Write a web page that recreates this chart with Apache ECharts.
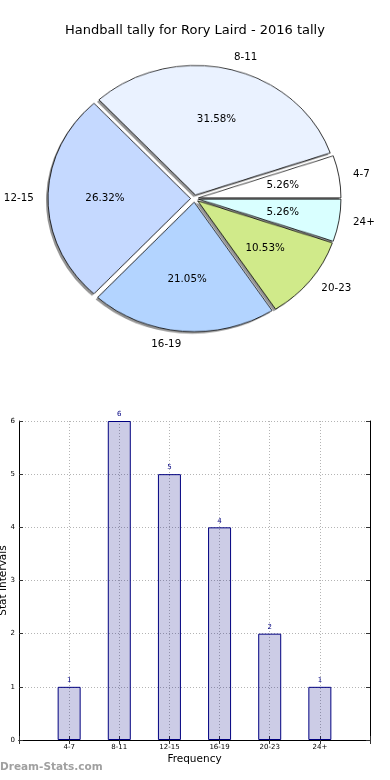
<!DOCTYPE html>
<html><head><meta charset="utf-8">
<script src="https://cdn.jsdelivr.net/npm/echarts@6/dist/echarts.min.js"></script>
<style>
html,body{margin:0;padding:0;background:#fff}
#wrap{position:relative;width:390px;height:780px;overflow:hidden}
#pie{position:absolute;left:0;top:0;width:390px;height:400px}
#main{position:absolute;left:0;top:0;width:390px;height:780px}
</style>
</head><body><div id="wrap"><div id="pie"></div><div id="main"></div></div>
<script>
const titleText = 'Handball tally for Rory Laird - 2016 tally';
const categories = ['4-7', '8-11', '12-15', '16-19', '20-23', '24+'];
const tallies = [1, 6, 5, 4, 2, 1];
const sliceColors = ['#ffffff', '#eaf2ff', '#c5d9ff', '#b3d4ff', '#d0ea8a', '#d9ffff'];
const yMin = 0, yMax = 6, yStep = 1;
const xAxisName = 'Frequency';
const yAxisName = 'Stat Intervals';
const watermark = 'Dream-Stats.com';

const FONT = 'DejaVu Sans';
// layout of the (elliptical) pie of the original
const cx = 194.5, cy = 198.5, Rh = 142.5, Rv = 129.5, explode = 4;
const k = Rv / Rh;
const shadowDx = -2, shadowDy = 2;

const pieEl = document.getElementById('pie');
pieEl.style.transformOrigin = '0px ' + cy + 'px';
pieEl.style.transform = 'scaleY(' + k + ')';

const total = tallies.reduce((a, b) => a + b, 0);
const mids = [];
let acc = 0;
tallies.forEach(v => { mids.push((acc + v / 2) / total * 2 * Math.PI); acc += v; });

// slices: drawn by ECharts pies in a vertically scaled layer (shadow pie underneath)
const pieBase = {
  type: 'pie', radius: [0, Rh], startAngle: 0, clockwise: false,
  selectedMode: 'multiple', selectedOffset: explode, avoidLabelOverlap: false,
  label: { show: false }, labelLine: { show: false }, emphasis: { disabled: true }
};
const shadowColor = 'rgba(60,60,60,0.55)';
const pieChart = echarts.init(pieEl);
pieChart.setOption({
  animation: false,
  backgroundColor: 'transparent',
  series: [Object.assign({}, pieBase, {
    center: [cx + shadowDx, cy + shadowDy / k], z: 1,
    itemStyle: { color: shadowColor, borderWidth: 0 },
    select: { itemStyle: { color: shadowColor, borderWidth: 0 } },
    data: categories.map((name, i) => ({ name, value: tallies[i], selected: true }))
  }), Object.assign({}, pieBase, {
    center: [cx, cy], z: 2,
    itemStyle: { borderColor: '#000', borderWidth: 0.8 },
    select: { itemStyle: { borderColor: '#000', borderWidth: 0.8 } },
    data: categories.map((name, i) => ({
      name, value: tallies[i], selected: true,
      itemStyle: { color: sliceColors[i] },
      select: { itemStyle: { color: sliceColors[i] } }
    }))
  })]
});

// labels: unscaled text; one tiny transparent pie per label, centred so that
// its label lands where the elliptical, exploded slice puts it
function target(t, f) {
  return [cx + explode * Math.cos(t) + f * Rh * Math.cos(t),
          cy - (k * explode * Math.sin(t) + f * Rv * Math.sin(t))];
}
const clear = 'rgba(0,0,0,0)';
const tinyR = 2, lineLen = 1, insideNudge = 3;
const labelSeries = [];
categories.forEach((name, i) => {
  const t = mids[i], ux = Math.cos(t), uy = -Math.sin(t);
  const [nx, ny] = target(t, 1.1);
  const [px, py] = target(t, 0.6);
  const dataFor = () => categories.map((n, j) => ({ name: n, value: tallies[j], label: { show: j === i } }));
  const common = {
    type: 'pie', startAngle: 0, clockwise: false, avoidLabelOverlap: false, silent: true,
    percentPrecision: 2, selectedMode: false,
    itemStyle: { color: clear, borderWidth: 0 },
    emphasis: { disabled: true }, animation: false
  };
  labelSeries.push(Object.assign({}, common, {
    center: [nx - (tinyR + lineLen) * ux, ny - (tinyR + lineLen) * uy], radius: [0, tinyR],
    label: { position: 'outside', formatter: '{b}', distanceToLabelLine: 0, fontFamily: FONT, fontSize: 10.3, color: '#000' },
    labelLine: { show: false, length: lineLen, length2: 0 },
    data: dataFor()
  }));
  const off = tinyR / 2 + insideNudge;
  labelSeries.push(Object.assign({}, common, {
    center: [px - off * ux, py - off * uy], radius: [0, tinyR],
    label: { position: 'inside', formatter: '{d}%', fontFamily: FONT, fontSize: 10.3, color: '#000' },
    labelLine: { show: false },
    data: dataFor()
  }));
});

const chart = echarts.init(document.getElementById('main'));
const axisColor = '#000';
const gridLine = { show: true, lineStyle: { color: '#b4b4b4', type: [1, 2], width: 1 } };
const tickStyle = { show: true, inside: true, length: 4, lineStyle: { color: '#333' } };

chart.setOption({
  animation: false,
  backgroundColor: 'transparent',
  title: {
    text: titleText, left: 'center', top: 19,
    textStyle: { fontFamily: FONT, fontSize: 13, fontWeight: 'normal', color: '#000' }
  },
  graphic: [{
    type: 'text', left: 0, top: 762,
    style: { text: watermark, fill: '#a0a0a0', font: 'bold 10.5px "DejaVu Sans"' }
  }],
  grid: { left: 19, right: 20, top: 421, bottom: 40, containLabel: false, outerBoundsMode: 'none' },
  xAxis: [{
    type: 'category', data: ['', ...categories, ''], boundaryGap: false,
    axisLine: { show: true, lineStyle: { color: axisColor, width: 1 } },
    axisTick: tickStyle,
    axisLabel: { fontFamily: FONT, fontSize: 7, color: '#000', margin: 4 },
    splitLine: gridLine,
    name: xAxisName, nameLocation: 'middle', nameGap: 14, nameMoveOverlap: false,
    nameTextStyle: { fontFamily: FONT, fontSize: 10.5, color: '#000' }
  }, {
    type: 'category', position: 'top', data: ['', ...categories, ''], boundaryGap: false,
    axisLine: { show: true, lineStyle: { color: axisColor, width: 1 } },
    axisTick: tickStyle, axisLabel: { show: false }, splitLine: { show: false }
  }],
  yAxis: [{
    type: 'value', min: yMin, max: yMax, interval: yStep,
    axisLine: { show: true, lineStyle: { color: axisColor, width: 1 } },
    axisTick: tickStyle,
    axisLabel: { fontFamily: FONT, fontSize: 7, color: '#000', margin: 4 },
    splitLine: gridLine,
    name: yAxisName, nameLocation: 'middle', nameRotate: 90, nameGap: 10, nameMoveOverlap: false,
    nameTextStyle: { fontFamily: FONT, fontSize: 10.5, color: '#000' }
  }, {
    type: 'value', position: 'right', min: yMin, max: yMax, interval: yStep,
    axisLine: { show: true, lineStyle: { color: axisColor, width: 1 } },
    axisTick: tickStyle, axisLabel: { show: false }, splitLine: { show: false }
  }],
  series: [...labelSeries, {
    type: 'bar', xAxisIndex: 0, yAxisIndex: 0,
    data: [null, ...tallies, null], barWidth: 23,
    itemStyle: { color: 'rgba(0,0,128,0.2)', borderColor: '#000080', borderWidth: 1 },
    label: { show: true, position: 'top', distance: 3, fontFamily: FONT, fontSize: 7, color: '#000080' },
    emphasis: { disabled: true }
  }]
});
</script></body></html>
